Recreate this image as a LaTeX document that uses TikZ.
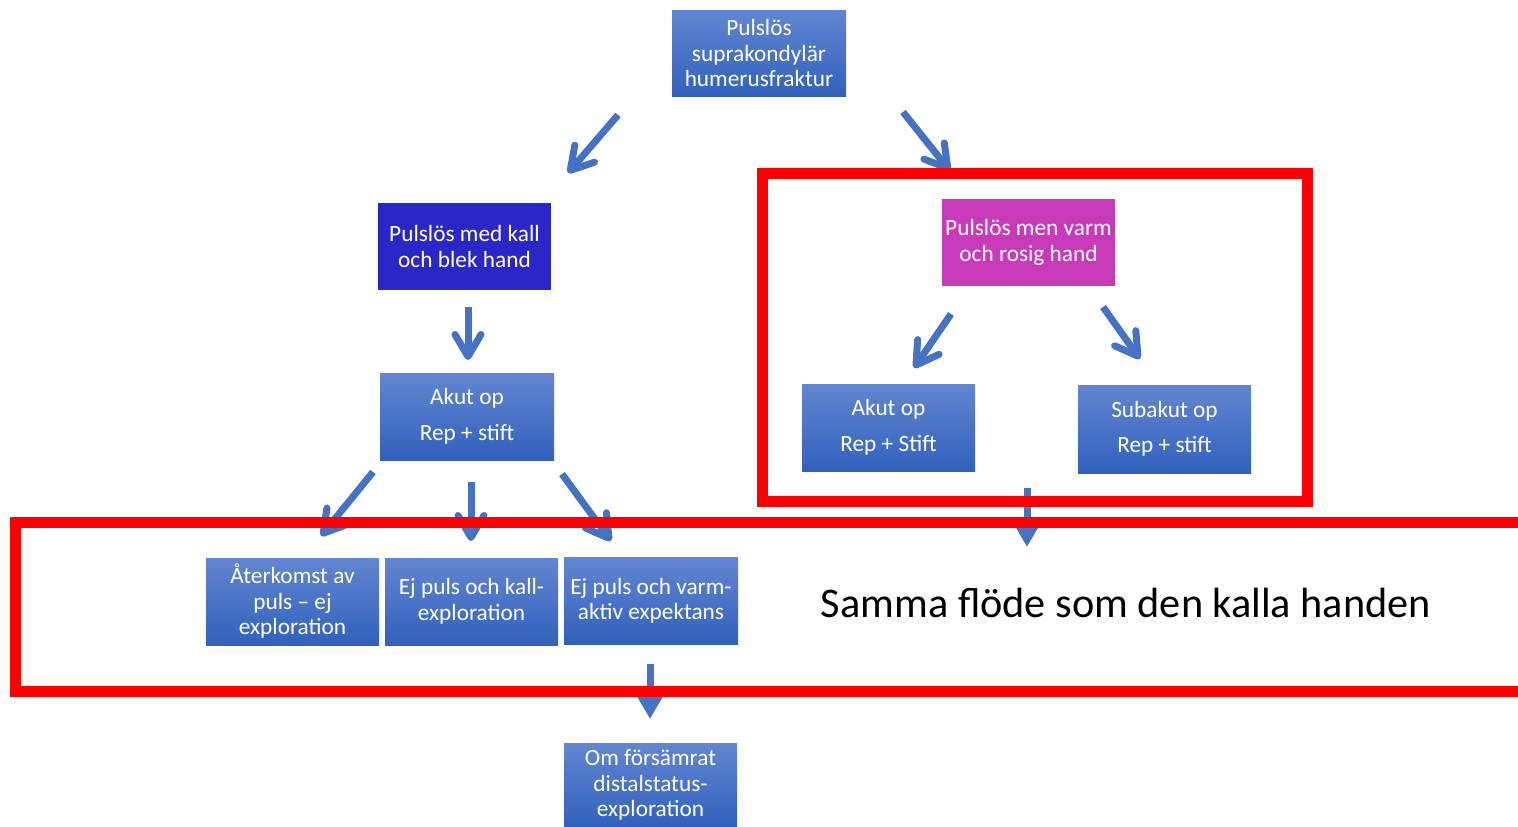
\documentclass[tikz,border=0pt]{standalone}
\usepackage{fontspec}
\setmainfont{Carlito}
\usetikzlibrary{arrows.meta}
\definecolor{arrowblue}{RGB}{68,114,196}
\definecolor{boxtop}{RGB}{98,134,209}
\definecolor{boxbot}{RGB}{49,97,189}
\definecolor{coldblue}{RGB}{42,39,200}
\definecolor{magentabox}{RGB}{199,59,186}
\definecolor{redframe}{RGB}{255,0,0}
\begin{document}
\begin{tikzpicture}[x=1pt,y=-1pt,
  basebox/.style={rectangle, inner sep=0pt, minimum width=173pt, minimum height=87pt,
    text=white, align=center, font=\fontsize{23.3}{25.5}\selectfont},
  gbox/.style={basebox, top color=boxtop, bottom color=boxbot},
  sbox/.style={basebox, fill=#1},
  barb/.style={draw=arrowblue, line width=7pt, -{Straight Barb[round,length=22pt,width=26pt]}},
  tri/.style={draw=arrowblue, line width=7pt, -{Triangle[length=26pt,width=28pt]}},
  frame/.style={draw=redframe, line width=11pt}]
\useasboundingbox (0,0) rectangle (1518,827);
\fill[white] (0,0) rectangle (1518,827);

% boxes
\node[gbox, minimum width=174pt, minimum height=86pt] (top) at (759,53) {Pulslös\\suprakondylär\\humerusfraktur};
\node[sbox=coldblue] (cold) at (464.5,246.5) {Pulslös med kall\\och blek hand};
\node[gbox, minimum width=174pt] (akutL) at (467,416.5) {Akut op\\[10pt]Rep + stift};
\node[sbox=magentabox] (warm) at (1028.5,242.5) {Pulslös men varm\\och rosig hand};
\node[gbox] (akutR) at (888.5,427.5) {Akut op\\[10pt]Rep + Stift};
\node[gbox, minimum height=88pt] (subakut) at (1164.5,429) {Subakut op\\[10pt]Rep + stift};
\node[gbox] (ater) at (292.5,601.5) {Återkomst av\\puls – ej\\exploration};
\node[gbox] (ejkall) at (471.5,601.5) {Ej puls och kall-\\exploration};
\node[gbox, minimum width=174pt] (ejvarm) at (651,601) {Ej puls och varm-\\aktiv expektans};
\node[gbox, minimum height=84pt] (om) at (650.5,785) {Om försämrat\\distalstatus-\\exploration};
\node[font=\fontsize{42.3}{48}\selectfont, text=black, inner sep=0pt] (samma) at (1126,603) {Samma flöde som den kalla handen};

% arrow end points
\coordinate (a1s) at (618,115); \coordinate (a1e) at (568,173);
\coordinate (a2s) at (903,112); \coordinate (a2e) at (950,171);
\coordinate (a3s) at (468,307); \coordinate (a3e) at (468,360);
\coordinate (a4s) at (951,314); \coordinate (a4e) at (914,368);
\coordinate (a5s) at (1103,307); \coordinate (a5e) at (1140,359);
\coordinate (a6s) at (373,472); \coordinate (a6e) at (321,536);
\coordinate (a7s) at (471,482); \coordinate (a7e) at (471,541);
\coordinate (a8s) at (562,474); \coordinate (a8e) at (611,541);
\coordinate (a9s) at (1027,488); \coordinate (a9e) at (1027,547);
\coordinate (a10s) at (650,664); \coordinate (a10e) at (650,719);

\draw[barb] (a1s) -- (a1e);
\draw[barb] (a2s) -- (a2e);
\draw[barb] (a3s) -- (a3e);
\draw[barb] (a4s) -- (a4e);
\draw[barb] (a5s) -- (a5e);
\draw[barb] (a6s) -- (a6e);
\draw[barb] (a7s) -- (a7e);
\draw[barb] (a8s) -- (a8e);
\draw[tri] (a9s) -- (a9e);
\draw[tri] (a10s) -- (a10e);

% red frames
\draw[frame] (762.5,173.5) rectangle (1307.5,501.5);
\draw[frame] (1540,522.5) -- (15.5,522.5) -- (15.5,691.5) -- (1540,691.5);
\end{tikzpicture}
\end{document}
